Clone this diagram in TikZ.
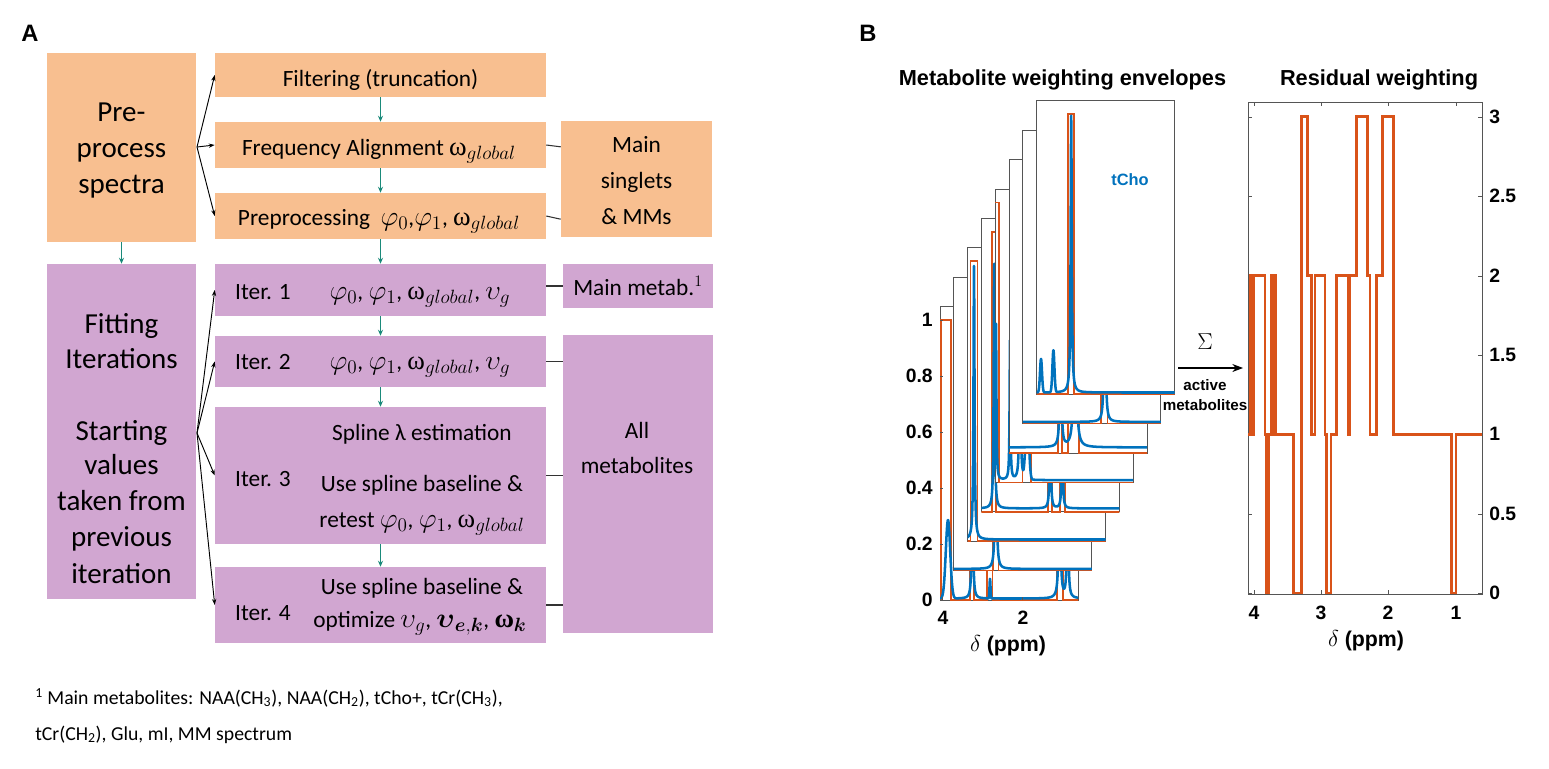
\documentclass[tikz,border=0pt]{standalone}
\usepackage{amsmath}
\usepackage{fontspec}
\setmainfont{Carlito}
\newfontfamily\hvf{Liberation Sans}
\newfontfamily\serf{Liberation Serif}
\usetikzlibrary{arrows.meta,fit,calc}
\definecolor{peach}{HTML}{F8BF90}
\definecolor{lilac}{HTML}{D1A6D1}
\definecolor{teal2}{HTML}{1A8A7A}
\definecolor{mblue}{HTML}{0072BD}
\definecolor{morange}{HTML}{D95319}
\definecolor{framec}{HTML}{555555}
\newcommand{\mth}[1]{{\fontsize{20}{22}\selectfont$#1$}}
\newcommand{\wg}{{\fontsize{20}{22}\selectfont\serf ω$_{global}$}}
\tikzset{
 declare function={
  lor(\xx,\cc,\ww,\hh)=\hh/(1+(min(abs(\xx-\cc)/\ww,100))^2);
  gau(\xx,\cc,\sg,\hh)=\hh*exp(-0.5*(min(abs(\xx-\cc)/\sg,6))^2);
 },
 inbox/.style={x=-30pt, y=210pt, xshift={((940+13.8*#1)*0.75+122.1)*1pt}, yshift={-(600-29.4*#1)*0.75*1pt}},
 envl/.style={morange, line width=1.1pt},
 spec/.style={mblue, line width=1.9pt, line join=round},
}
\newcommand{\envbox}[3]{%
 \begin{scope}[inbox=#1]
  \filldraw[fill=white, draw=framec, line width=0.6pt] (4.07,0) rectangle (0.62,1.048);
  \begin{scope}
   \clip (4.07,-0.007) rectangle (0.62,1.048);
   \draw[envl] #2;
   \draw[spec] plot[domain=0.6:4.1, samples=600] (\x,{#3});
  \end{scope}
 \end{scope}}
\begin{document}
\begin{tikzpicture}[x=0.75pt,y=-0.75pt,
 pbox/.style={fill=peach, inner sep=0pt, draw=none},
 lbox/.style={fill=lilac, inner sep=0pt, draw=none},
 tx/.style={inner sep=0pt, anchor=base, font=\fontsize{17.5}{20}\selectfont},
 tb/.style={inner sep=0pt, anchor=base, font=\fontsize{21.75}{26}\selectfont},
 fnote/.style={inner sep=0pt, anchor=base west, font=\fontsize{14.8}{18}\selectfont},
 blk/.style={-{Stealth[length=4.5pt,width=3.2pt]}, line width=0.7pt, black},
 tarr/.style={-{Stealth[length=4.5pt,width=3.8pt]}, line width=0.8pt, teal2},
 cn/.style={line width=0.8pt, black!80},
 lab/.style={inner sep=0pt, anchor=base, font=\hvf\bfseries\fontsize{17.8}{20}\selectfont},
 ttl/.style={inner sep=0pt, anchor=base, font=\hvf\bfseries\fontsize{16.3}{19}\selectfont},
 tk/.style={inner sep=0pt, font=\hvf\bfseries\fontsize{14.5}{17}\selectfont},
 axl/.style={inner sep=0pt, font=\hvf\bfseries\fontsize{16}{19}\selectfont},
 sml/.style={inner sep=0pt, font=\hvf\bfseries\fontsize{11.4}{13}\selectfont},
 frm/.style={draw=framec, line width=0.6pt},
 res/.style={morange, line width=2.2pt, line join=miter},
]
\useasboundingbox (0,0) rectangle (1549,768);

% ---------------- Panel A ----------------
\node[lab] (A) at (30,41.7) {A};

\node[pbox, fit={(47,53) (196,242)}] (pre) {};
\node[tb] (pre1) at (121.5,121.7) {Pre-};
\node[tb] (pre2) at (121.5,157.2) {process};
\node[tb] (pre3) at (121.5,193.3) {spectra};

\node[pbox, fit={(215,53) (546,97)}] (filt) {};
\node[tx] (filtT) at (380.5,86.7) {Filtering (truncation)};
\node[pbox, fit={(215,122) (546,168)}] (freq) {};
\node[tx] (freqT) at (379,155) {Frequency Alignment \wg};
\node[pbox, fit={(215,193) (546,239)}] (prep) {};
\node[tx] (prepT) at (379,225) {Preprocessing\hspace{0.45em}\mth{\varphi_0},\mth{\varphi_1}, \wg};
\node[pbox, fit={(561,121) (712,237)}] (sing) {};
\node[tx] (sing1) at (636.5,152.7) {Main};
\node[tx] (sing2) at (636.5,188.3) {singlets};
\node[tx] (sing3) at (636.5,224.3) {\& MMs};

\node[lbox, fit={(47,264) (196,599)}] (fitb) {};
\node[tb] (fit1) at (121.5,333) {Fitting};
\node[tb] (fit2) at (121.5,368) {Iterations};
\node[tb] (fit3) at (121.5,440) {Starting};
\node[tb] (fit4) at (121.5,474.5) {values};
\node[tb] (fit5) at (121.5,510.5) {taken from};
\node[tb] (fit6) at (121.5,546.7) {previous};
\node[tb] (fit7) at (121.5,583) {iteration};

\node[lbox, fit={(215,264) (546,316)}] (it1) {};
\node[tx] (it1a) at (263,299) {Iter. 1};
\node[tx] (it1b) at (420,299) {\mth{\varphi_0}, \mth{\varphi_1}, \wg, \mth{\upsilon_g}};
\node[lbox, fit={(563,264) (713,308)}] (mm1) {};
\node[tx] (mm1T) at (638,295) {Main metab.$^1$};
\node[lbox, fit={(215,336) (546,387)}] (it2) {};
\node[tx] (it2a) at (263,369.3) {Iter. 2};
\node[tx] (it2b) at (420,369.3) {\mth{\varphi_0}, \mth{\varphi_1}, \wg, \mth{\upsilon_g}};
\node[lbox, fit={(215,407) (546,544)}] (it3) {};
\node[tx] (it3s) at (422,440) {Spline λ estimation};
\node[tx] (it3u) at (422,491.7) {Use spline baseline \&};
\node[tx] (it3r) at (422,527.5) {retest \mth{\varphi_0}, \mth{\varphi_1}, \wg};
\node[tx] (it3a) at (263,486.7) {Iter. 3};
\node[lbox, fit={(215,567) (546,643)}] (it4) {};
\node[tx] (it4u) at (422,594) {Use spline baseline \&};
\node[tx] (it4o) at (420,627) {optimize \mth{\upsilon_g}, \mth{\boldsymbol{\upsilon}_{\boldsymbol{e},\boldsymbol{k}}}, {\fontsize{20}{22}\selectfont\serf\bfseries ω$_{\boldsymbol{k}}$}};
\node[tx] (it4a) at (263,620) {Iter. 4};
\node[lbox, fit={(563,335) (713,633)}] (allm) {};
\node[tx] (all1) at (637,438) {All};
\node[tx] (all2) at (637,473.3) {metabolites};

% fork arrows
\coordinate (pf) at (197,147);
\foreach \n in {filt,freq,prep} \draw[blk] (pf) -- (\n.west);
\coordinate (ff) at (197,433);
\foreach \n in {it1,it2,it3,it4} \draw[blk] (ff) -- (\n.west);

% teal arrows
\draw[tarr] (filt.south) -- (freq.north);
\draw[tarr] (freq.south) -- (prep.north);
\draw[tarr] (prep.south) -- (it1.north);
\draw[tarr] (it1.south) -- (it2.north);
\draw[tarr] (it2.south) -- (it3.north);
\draw[tarr] (it3.south) -- (it4.north);
\draw[tarr] (pre.south) -- (fitb.north);

% connectors to right boxes
\draw[cn] (freq.east) -- ($(sing.north west)!0.224!(sing.south west)$);
\draw[cn] (prep.east) -- ($(sing.north west)!0.845!(sing.south west)$);
\draw[cn] (mm1.west -| it1.east) -- (mm1.west);
\draw[cn] (it2.east) -- (it2.east -| allm.west);
\draw[cn] (it3.east) -- (it3.east -| allm.west);
\draw[cn] (it4.east) -- (it4.east -| allm.west);

% footnote
\node[fnote] (fn1) at (35,704) {\textsuperscript{1} Main metabolites: NAA(CH\textsubscript{3}), NAA(CH\textsubscript{2}), tCho+, tCr(CH\textsubscript{3}),};
\node[fnote] (fn2) at (35,740) {tCr(CH\textsubscript{2}), Glu, mI, MM spectrum};

% ---------------- Panel B ----------------
\node[lab] (B) at (868,41.7) {B};
\node[ttl] (t1) at (1062.5,85) {Metabolite weighting envelopes};
\node[ttl] (t2) at (1379,85) {Residual weighting};

% stacked envelope plots
\envbox{0}{(4.1,0) -- (4.05,0) -- (4.05,1) -- (3.80,1) -- (3.80,0) -- (3.32,0) -- (3.32,1) -- (3.22,1) -- (3.22,0) -- (2.90,0) -- (2.90,1) -- (2.76,1) -- (2.76,0) -- (1.15,0) -- (1.15,1) -- (1.00,1) -- (1.00,0) -- (0.6,0)}{0.005+gau(\x,3.87,0.055,0.28)+lor(\x,3.26,0.014,0.7)+gau(\x,2.82,0.012,0.07)+lor(\x,1.08,0.02,0.6)+lor(\x,0.88,0.015,0.6)}
\begin{scope}[inbox=0]
 \foreach \v in {0,0.2,0.4,0.6,0.8,1} \draw[frm] (4.07,\v) -- ++(-0.075,0);
 \draw[frm] (4,0) -- (4,0.012);
 \draw[frm] (2,0) -- (2,0.012);
\end{scope}
\envbox{1}{(4.1,0) -- (3.09,0) -- (3.09,1) -- (2.95,1) -- (2.95,0) -- (0.6,0)}{0.006+lor(\x,3.02,0.015,0.97)}
\envbox{2}{(4.1,0) -- (4.00,0) -- (4.00,1) -- (3.82,1) -- (3.82,0) -- (0.6,0)}{0.006+lor(\x,3.91,0.015,0.98)}
\envbox{3}{(4.1,0) -- (3.80,0) -- (3.80,1) -- (3.70,1) -- (3.70,0) -- (2.40,0) -- (2.40,1) -- (2.30,1) -- (2.30,0) -- (2.10,0) -- (2.10,1) -- (1.98,1) -- (1.98,0) -- (0.6,0)}{0.012+lor(\x,3.75,0.014,0.9)+lor(\x,2.35,0.012,0.6)+lor(\x,2.05,0.012,0.5)}
\envbox{4}{(4.12,0) -- (4.12,1) -- (3.98,1) -- (3.98,0) -- (3.39,0) -- (3.39,1) -- (3.18,1) -- (3.18,0) -- (0.6,0)}{0.008+lor(\x,4.05,0.012,0.56)+lor(\x,3.70,0.012,0.5)+lor(\x,3.45,0.015,0.7)+gau(\x,3.27,0.04,0.25)}
\envbox{5}{(4.1,0) -- (2.84,0) -- (2.84,1) -- (2.74,1) -- (2.74,0) -- (2.59,0) -- (2.59,1) -- (2.32,1) -- (2.32,0) -- (0.6,0)}{0.02+lor(\x,2.78,0.014,0.9)+lor(\x,2.42,0.025,0.95)}
\envbox{6}{(4.1,0) -- (2.12,0) -- (2.12,1) -- (1.95,1) -- (1.95,0) -- (0.6,0)}{0.006+lor(\x,2.02,0.015,0.98)}
\envbox{7}{(4.1,0) -- (3.28,0) -- (3.28,1) -- (3.13,1) -- (3.13,0) -- (0.6,0)}{0.006+lor(\x,3.205,0.016,0.99)+gau(\x,3.96,0.025,0.12)+gau(\x,3.65,0.025,0.15)}
\node[font=\hvf\bfseries\fontsize{12.3}{14}\selectfont, text=mblue, inner sep=0pt] (tcho) at (1130,180) {tCho};

% left axis labels
\foreach \lb/\yy in {0/600,0.2/544,0.4/488,0.6/432,0.8/376,1/320}
  \node[tk, anchor=east] (yl\yy) at (933,\yy) {\lb};
\node[tk] (xl4) at (943,618) {4};
\node[tk] (xl2) at (1023,618) {2};
\node[axl] (xlab1) at (1008,646) {$\delta$ (ppm)};

% sum arrow
\node[inner sep=0pt, font=\fontsize{17}{19}\selectfont] (sig) at (1205,342) {$\Sigma$};
\coordinate (aL) at (1178,368);
\coordinate (aR) at (1243,368);
\draw[-{Stealth[length=8pt,width=6pt]}, line width=0.8pt] (aL) -- (aR);
\node[sml] (act1) at (1205,385) {active};
\node[sml] (act2) at (1205,405) {metabolites};

% right plot
\draw[frm] (1248,102) rectangle (1482,594);
\foreach \xx in {1254,1321,1388,1456} {
  \draw[frm] (\xx,594) -- (\xx,590);
  \draw[frm] (\xx,102) -- (\xx,106);
}
\foreach \yy in {593,514,434,355,276,196,117} {
  \draw[frm] (1248,\yy) -- (1252,\yy);
  \draw[frm] (1482,\yy) -- (1478,\yy);
}
\begin{scope}[x=0.75pt, y=119.025pt, yshift=-444.75pt]
 \clip (1248,-0.02) rectangle (1482,3.1);
 \draw[res] (1248.3,1) -| (1250,2) -| (1252,1) -| (1253.3,2) -| (1265,1) -| (1266.7,0) -| (1268.3,1)
   -| (1271.7,2) -| (1272.7,1) -| (1274,2) -| (1275.3,1) -| (1293.3,0) -| (1301.7,3) -| (1307.7,2)
   -| (1311.7,1) -| (1315,2) -| (1325,1) -| (1326.7,0) -| (1331,1) -| (1336.7,2) -| (1348.3,1)
   -| (1350,2) -| (1356.7,3) -| (1367.7,2) -| (1370,1) -| (1376.7,2) -| (1382.7,3) -| (1393.3,1)
   -| (1451.7,0) -| (1456,1) -- (1481.7,1);
\end{scope}
\foreach \lb/\yy in {0/593,0.5/514,1/434,1.5/355,2/276,2.5/196,3/117}
  \node[tk, anchor=west] (ryl\yy) at (1489,\yy) {\lb};
\node[tk] (rx4) at (1254,613) {4};
\node[tk] (rx3) at (1321,613) {3};
\node[tk] (rx2) at (1388,613) {2};
\node[tk] (rx1) at (1456,613) {1};
\node[axl] (xlab2) at (1366,641) {$\delta$ (ppm)};
\end{tikzpicture}
\end{document}
